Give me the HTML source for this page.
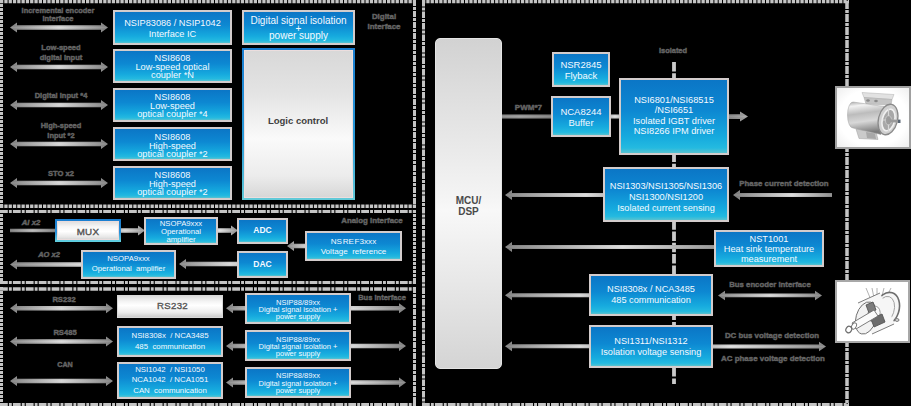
<!DOCTYPE html>
<html><head><meta charset="utf-8"><style>
html,body{margin:0;padding:0;background:#000;width:911px;height:406px;overflow:hidden}
body{position:relative;font-family:"Liberation Sans", sans-serif}
svg.main{position:absolute;left:0;top:0}
.bb,.gb,.lc,.mux,.mcu,.img,.lb{position:absolute;box-sizing:content-box}
.bb{border:2px solid #d3cccc;background:linear-gradient(to bottom,#0b76c6 0%,#0d88d2 42%,#16aade 78%,#24bae0 93%,#58c2d0 100%);color:#f4faff;display:flex;align-items:center;justify-content:center;text-align:center}
.tx{white-space:nowrap;text-align:center}
.lb{color:#646464;font-weight:bold;-webkit-text-stroke:0.45px #646464;white-space:nowrap;transform-origin:center top}
.lc{border:2px solid #1a84d6;border-image:linear-gradient(to bottom,#1a7ed0,#2a9ad8 60%,#62cad8) 1;background:linear-gradient(to bottom,#d8d8d8 0%,#e4e4e4 30%,#fafafa 60%,#ececec 85%,#d6d6d6 100%);display:flex;align-items:center;justify-content:center;box-shadow:inset 0 0 0 1px #ecdede}
.mux{border:2px solid #1a84d6;border-image:linear-gradient(to bottom,#1a7ed0,#2a90d8 60%,#62d0e0) 1;background:linear-gradient(to bottom,#dcdcdc 0%,#f6f6f6 30%,#ffffff 55%,#e6e6e6 85%,#d0d0d0 100%);display:flex;align-items:center;justify-content:center;box-shadow:inset 0 0 0 1px #eadcdc}
.gb{background:linear-gradient(to bottom,#d6d6d6 0%,#f4f4f4 28%,#ffffff 45%,#ececec 75%,#c6c6c6 100%);display:flex;align-items:center;justify-content:center;box-shadow:inset 0 0 0 1px #d8d8d8}
.mcu{border:1px solid #e4e4e4;border-radius:5px;background:linear-gradient(to bottom,#d2d2d2 0%,#f4f4f4 48%,#f8f8f8 52%,#d4d4d4 100%);display:flex;align-items:center;justify-content:center}
.img{background:#fff;border:0;box-shadow:inset 0 0 0 2px #9c9c9c}
</style></head><body>
<svg class="main" width="911" height="406" viewBox="0 0 911 406"><defs>
<linearGradient id="hg" x1="0" y1="0" x2="1" y2="0"><stop offset="0" stop-color="#858585"/><stop offset="0.5" stop-color="#d6d6d6"/><stop offset="1" stop-color="#858585"/></linearGradient>
<linearGradient id="hv" x1="0" y1="0" x2="0" y2="1"><stop offset="0" stop-color="#000" stop-opacity="0"/><stop offset="0.35" stop-color="#000" stop-opacity="0.06"/><stop offset="0.5" stop-color="#fff" stop-opacity="0.06"/><stop offset="0.65" stop-color="#000" stop-opacity="0.06"/><stop offset="1" stop-color="#000" stop-opacity="0"/></linearGradient>
<linearGradient id="ga" x1="0" y1="0" x2="0" y2="1"><stop offset="0" stop-color="#8c8c8c"/><stop offset="0.5" stop-color="#d0d0d0"/><stop offset="1" stop-color="#8c8c8c"/></linearGradient>
<linearGradient id="gl" x1="0" y1="0" x2="0" y2="1"><stop offset="0" stop-color="#a8a8a8"/><stop offset="0.5" stop-color="#e0e0e0"/><stop offset="1" stop-color="#a8a8a8"/></linearGradient>
<linearGradient id="gd" x1="0" y1="0" x2="0" y2="1"><stop offset="0" stop-color="#6a6a6a"/><stop offset="0.5" stop-color="#9a9a9a"/><stop offset="1" stop-color="#6a6a6a"/></linearGradient>
<linearGradient id="g1" gradientUnits="userSpaceOnUse" x1="10" y1="0" x2="108" y2="0"><stop offset="0" stop-color="#858585"/><stop offset="0.5" stop-color="#dadada"/><stop offset="1" stop-color="#858585"/></linearGradient><linearGradient id="g2" gradientUnits="userSpaceOnUse" x1="10" y1="0" x2="108" y2="0"><stop offset="0" stop-color="#858585"/><stop offset="0.5" stop-color="#dadada"/><stop offset="1" stop-color="#858585"/></linearGradient><linearGradient id="g3" gradientUnits="userSpaceOnUse" x1="10" y1="0" x2="108" y2="0"><stop offset="0" stop-color="#858585"/><stop offset="0.5" stop-color="#dadada"/><stop offset="1" stop-color="#858585"/></linearGradient><linearGradient id="g4" gradientUnits="userSpaceOnUse" x1="10" y1="0" x2="108" y2="0"><stop offset="0" stop-color="#858585"/><stop offset="0.5" stop-color="#dadada"/><stop offset="1" stop-color="#858585"/></linearGradient><linearGradient id="g5" gradientUnits="userSpaceOnUse" x1="10" y1="0" x2="108" y2="0"><stop offset="0" stop-color="#858585"/><stop offset="0.5" stop-color="#dadada"/><stop offset="1" stop-color="#858585"/></linearGradient><linearGradient id="g6" gradientUnits="userSpaceOnUse" x1="10" y1="0" x2="55" y2="0"><stop offset="0" stop-color="#808080"/><stop offset="0.5" stop-color="#b8b8b8"/><stop offset="1" stop-color="#808080"/></linearGradient><linearGradient id="g7" gradientUnits="userSpaceOnUse" x1="100" y1="0" x2="150" y2="0"><stop offset="0" stop-color="#8a8a8a"/><stop offset="0.5" stop-color="#d8d8d8"/><stop offset="1" stop-color="#8a8a8a"/></linearGradient><linearGradient id="g8" gradientUnits="userSpaceOnUse" x1="200" y1="0" x2="240" y2="0"><stop offset="0" stop-color="#8a8a8a"/><stop offset="0.5" stop-color="#e0e0e0"/><stop offset="1" stop-color="#8a8a8a"/></linearGradient><linearGradient id="g9" gradientUnits="userSpaceOnUse" x1="285" y1="0" x2="330" y2="0"><stop offset="0" stop-color="#858585"/><stop offset="0.5" stop-color="#d8d8d8"/><stop offset="1" stop-color="#858585"/></linearGradient><linearGradient id="g10" gradientUnits="userSpaceOnUse" x1="10" y1="0" x2="150" y2="0"><stop offset="0" stop-color="#858585"/><stop offset="0.5" stop-color="#dadada"/><stop offset="1" stop-color="#858585"/></linearGradient><linearGradient id="g11" gradientUnits="userSpaceOnUse" x1="179" y1="0" x2="280" y2="0"><stop offset="0" stop-color="#8a8a8a"/><stop offset="0.5" stop-color="#dcdcdc"/><stop offset="1" stop-color="#8a8a8a"/></linearGradient><linearGradient id="g12" gradientUnits="userSpaceOnUse" x1="10" y1="0" x2="113" y2="0"><stop offset="0" stop-color="#858585"/><stop offset="0.5" stop-color="#dadada"/><stop offset="1" stop-color="#858585"/></linearGradient><linearGradient id="g13" gradientUnits="userSpaceOnUse" x1="10" y1="0" x2="113" y2="0"><stop offset="0" stop-color="#858585"/><stop offset="0.5" stop-color="#dadada"/><stop offset="1" stop-color="#858585"/></linearGradient><linearGradient id="g14" gradientUnits="userSpaceOnUse" x1="10" y1="0" x2="113" y2="0"><stop offset="0" stop-color="#858585"/><stop offset="0.5" stop-color="#dadada"/><stop offset="1" stop-color="#858585"/></linearGradient><linearGradient id="g15" gradientUnits="userSpaceOnUse" x1="226" y1="0" x2="300" y2="0"><stop offset="0" stop-color="#858585"/><stop offset="0.5" stop-color="#dadada"/><stop offset="1" stop-color="#858585"/></linearGradient><linearGradient id="g16" gradientUnits="userSpaceOnUse" x1="300" y1="0" x2="406" y2="0"><stop offset="0" stop-color="#858585"/><stop offset="0.5" stop-color="#dadada"/><stop offset="1" stop-color="#858585"/></linearGradient><linearGradient id="g17" gradientUnits="userSpaceOnUse" x1="226" y1="0" x2="300" y2="0"><stop offset="0" stop-color="#858585"/><stop offset="0.5" stop-color="#dadada"/><stop offset="1" stop-color="#858585"/></linearGradient><linearGradient id="g18" gradientUnits="userSpaceOnUse" x1="300" y1="0" x2="406" y2="0"><stop offset="0" stop-color="#858585"/><stop offset="0.5" stop-color="#dadada"/><stop offset="1" stop-color="#858585"/></linearGradient><linearGradient id="g19" gradientUnits="userSpaceOnUse" x1="226" y1="0" x2="300" y2="0"><stop offset="0" stop-color="#858585"/><stop offset="0.5" stop-color="#dadada"/><stop offset="1" stop-color="#858585"/></linearGradient><linearGradient id="g20" gradientUnits="userSpaceOnUse" x1="300" y1="0" x2="406" y2="0"><stop offset="0" stop-color="#858585"/><stop offset="0.5" stop-color="#dadada"/><stop offset="1" stop-color="#858585"/></linearGradient><linearGradient id="g21" gradientUnits="userSpaceOnUse" x1="480" y1="0" x2="560" y2="0"><stop offset="0" stop-color="#7c7c7c"/><stop offset="0.5" stop-color="#9c9c9c"/><stop offset="1" stop-color="#7c7c7c"/></linearGradient><linearGradient id="g22" gradientUnits="userSpaceOnUse" x1="611" y1="0" x2="619" y2="0"><stop offset="0" stop-color="#c8c8c8"/><stop offset="0.5" stop-color="#e0e0e0"/><stop offset="1" stop-color="#c8c8c8"/></linearGradient><linearGradient id="g23" gradientUnits="userSpaceOnUse" x1="729" y1="0" x2="760" y2="0"><stop offset="0" stop-color="#8a8a8a"/><stop offset="0.5" stop-color="#a4a4a4"/><stop offset="1" stop-color="#8a8a8a"/></linearGradient><linearGradient id="g24" gradientUnits="userSpaceOnUse" x1="505" y1="0" x2="640" y2="0"><stop offset="0" stop-color="#858585"/><stop offset="0.6" stop-color="#e0e0e0"/><stop offset="1" stop-color="#858585"/></linearGradient><linearGradient id="g25" gradientUnits="userSpaceOnUse" x1="733" y1="0" x2="840" y2="0"><stop offset="0" stop-color="#808080"/><stop offset="0.55" stop-color="#e0e0e0"/><stop offset="1" stop-color="#808080"/></linearGradient><linearGradient id="g26" gradientUnits="userSpaceOnUse" x1="505" y1="0" x2="740" y2="0"><stop offset="0" stop-color="#858585"/><stop offset="0.5" stop-color="#e0e0e0"/><stop offset="1" stop-color="#858585"/></linearGradient><linearGradient id="g27" gradientUnits="userSpaceOnUse" x1="505" y1="0" x2="620" y2="0"><stop offset="0" stop-color="#858585"/><stop offset="0.65" stop-color="#dcdcdc"/><stop offset="1" stop-color="#858585"/></linearGradient><linearGradient id="g28" gradientUnits="userSpaceOnUse" x1="718" y1="0" x2="822" y2="0"><stop offset="0" stop-color="#858585"/><stop offset="0.5" stop-color="#dadada"/><stop offset="1" stop-color="#858585"/></linearGradient><linearGradient id="g29" gradientUnits="userSpaceOnUse" x1="505" y1="0" x2="620" y2="0"><stop offset="0" stop-color="#858585"/><stop offset="0.65" stop-color="#dcdcdc"/><stop offset="1" stop-color="#858585"/></linearGradient><linearGradient id="g30" gradientUnits="userSpaceOnUse" x1="680" y1="0" x2="826" y2="0"><stop offset="0" stop-color="#8a8a8a"/><stop offset="0.35" stop-color="#e0e0e0"/><stop offset="1" stop-color="#8a8a8a"/></linearGradient></defs><line x1="0" y1="1.6" x2="416" y2="1.6" stroke="#c4c4c4" stroke-width="3.3" stroke-dasharray="3.3 1" stroke-dashoffset="0"/><line x1="1.5" y1="0" x2="1.5" y2="208" stroke="#c4c4c4" stroke-width="3" stroke-dasharray="3 1" stroke-dashoffset="0"/><line x1="414.5" y1="0" x2="414.5" y2="208" stroke="#c4c4c4" stroke-width="3" stroke-dasharray="6 1 3 1" stroke-dashoffset="0"/><line x1="0" y1="206.2" x2="416" y2="206.2" stroke="#c4c4c4" stroke-width="3.6" stroke-dasharray="3.3 1" stroke-dashoffset="0"/><line x1="0" y1="211.5" x2="416" y2="211.5" stroke="#c4c4c4" stroke-width="3" stroke-dasharray="7.8 1.1 2.9 1.1" stroke-dashoffset="0"/><line x1="1.5" y1="210" x2="1.5" y2="284" stroke="#c4c4c4" stroke-width="3" stroke-dasharray="3 1" stroke-dashoffset="0"/><line x1="414.5" y1="210" x2="414.5" y2="284" stroke="#c4c4c4" stroke-width="3" stroke-dasharray="3 1" stroke-dashoffset="0"/><line x1="0" y1="282.5" x2="416" y2="282.5" stroke="#c4c4c4" stroke-width="3" stroke-dasharray="7.8 1.1 2.9 1.1" stroke-dashoffset="0"/><line x1="0" y1="289" x2="416" y2="289" stroke="#c4c4c4" stroke-width="3.5" stroke-dasharray="7.8 1.1 2.9 1.1" stroke-dashoffset="0"/><line x1="1.5" y1="287" x2="1.5" y2="406" stroke="#c4c4c4" stroke-width="3" stroke-dasharray="3 1" stroke-dashoffset="0"/><line x1="414.5" y1="287" x2="414.5" y2="406" stroke="#c4c4c4" stroke-width="3" stroke-dasharray="6 1 3 1" stroke-dashoffset="0"/><line x1="0" y1="404.5" x2="416" y2="404.5" stroke="#c4c4c4" stroke-width="3" stroke-dasharray="7.8 1.1 2.9 1.1" stroke-dashoffset="0"/><line x1="422" y1="1.6" x2="849" y2="1.6" stroke="#c4c4c4" stroke-width="3.3" stroke-dasharray="3.3 1" stroke-dashoffset="0"/><line x1="423.5" y1="0" x2="423.5" y2="406" stroke="#c4c4c4" stroke-width="3" stroke-dasharray="6.5 1 3 1" stroke-dashoffset="0"/><line x1="847" y1="0" x2="847" y2="406" stroke="#c4c4c4" stroke-width="3.5" stroke-dasharray="8 1 3 1" stroke-dashoffset="-1"/><line x1="422" y1="404.5" x2="849" y2="404.5" stroke="#c4c4c4" stroke-width="3" stroke-dasharray="7.8 1.1 2.9 1.1" stroke-dashoffset="0"/><path d="M10,27.5 L17,22.5 L17,25.25 L101,25.25 L101,22.5 L108,27.5 L101,32.5 L101,29.75 L17,29.75 L17,32.5 Z" fill="url(#g1)"/><path d="M10,27.5 L17,22.5 L17,25.25 L101,25.25 L101,22.5 L108,27.5 L101,32.5 L101,29.75 L17,29.75 L17,32.5 Z" fill="url(#hv)"/><path d="M10,67 L17,62.0 L17,64.75 L101,64.75 L101,62.0 L108,67 L101,72.0 L101,69.25 L17,69.25 L17,72.0 Z" fill="url(#g2)"/><path d="M10,67 L17,62.0 L17,64.75 L101,64.75 L101,62.0 L108,67 L101,72.0 L101,69.25 L17,69.25 L17,72.0 Z" fill="url(#hv)"/><path d="M10,105 L17,100.0 L17,102.75 L101,102.75 L101,100.0 L108,105 L101,110.0 L101,107.25 L17,107.25 L17,110.0 Z" fill="url(#g3)"/><path d="M10,105 L17,100.0 L17,102.75 L101,102.75 L101,100.0 L108,105 L101,110.0 L101,107.25 L17,107.25 L17,110.0 Z" fill="url(#hv)"/><path d="M10,144 L17,139.0 L17,141.75 L101,141.75 L101,139.0 L108,144 L101,149.0 L101,146.25 L17,146.25 L17,149.0 Z" fill="url(#g4)"/><path d="M10,144 L17,139.0 L17,141.75 L101,141.75 L101,139.0 L108,144 L101,149.0 L101,146.25 L17,146.25 L17,149.0 Z" fill="url(#hv)"/><path d="M10,182.9 L17,177.9 L17,180.65 L101,180.65 L101,177.9 L108,182.9 L101,187.9 L101,185.15 L17,185.15 L17,187.9 Z" fill="url(#g5)"/><path d="M10,182.9 L17,177.9 L17,180.65 L101,180.65 L101,177.9 L108,182.9 L101,187.9 L101,185.15 L17,185.15 L17,187.9 Z" fill="url(#hv)"/><path d="M10,228.75 L55,228.75 L55,232.25 L10,232.25 Z" fill="url(#g6)"/><path d="M10,228.75 L55,228.75 L55,232.25 L10,232.25 Z" fill="url(#hv)"/><path d="M121,228.25 L138,228.25 L138,225.5 L145,230.5 L138,235.5 L138,232.75 L121,232.75 Z" fill="url(#g7)"/><path d="M121,228.25 L138,228.25 L138,225.5 L145,230.5 L138,235.5 L138,232.75 L121,232.75 Z" fill="url(#hv)"/><path d="M218,228.25 L231,228.25 L231,225.5 L238,230.5 L231,235.5 L231,232.75 L218,232.75 Z" fill="url(#g8)"/><path d="M218,228.25 L231,228.25 L231,225.5 L238,230.5 L231,235.5 L231,232.75 L218,232.75 Z" fill="url(#hv)"/><path d="M287,246 L294,241.0 L294,243.75 L305,243.75 L305,248.25 L294,248.25 L294,251.0 Z" fill="url(#g9)"/><path d="M287,246 L294,241.0 L294,243.75 L305,243.75 L305,248.25 L294,248.25 L294,251.0 Z" fill="url(#hv)"/><path d="M10,264.5 L17,259.5 L17,262.25 L81,262.25 L81,266.75 L17,266.75 L17,269.5 Z" fill="url(#g10)"/><path d="M10,264.5 L17,259.5 L17,262.25 L81,262.25 L81,266.75 L17,266.75 L17,269.5 Z" fill="url(#hv)"/><path d="M179,264 L186,259.0 L186,261.75 L237,261.75 L237,266.25 L186,266.25 L186,269.0 Z" fill="url(#g11)"/><path d="M179,264 L186,259.0 L186,261.75 L237,261.75 L237,266.25 L186,266.25 L186,269.0 Z" fill="url(#hv)"/><path d="M10,308.3 L17,303.3 L17,306.05 L106,306.05 L106,303.3 L113,308.3 L106,313.3 L106,310.55 L17,310.55 L17,313.3 Z" fill="url(#g12)"/><path d="M10,308.3 L17,303.3 L17,306.05 L106,306.05 L106,303.3 L113,308.3 L106,313.3 L106,310.55 L17,310.55 L17,313.3 Z" fill="url(#hv)"/><path d="M10,341.5 L17,336.5 L17,339.25 L106,339.25 L106,336.5 L113,341.5 L106,346.5 L106,343.75 L17,343.75 L17,346.5 Z" fill="url(#g13)"/><path d="M10,341.5 L17,336.5 L17,339.25 L106,339.25 L106,336.5 L113,341.5 L106,346.5 L106,343.75 L17,343.75 L17,346.5 Z" fill="url(#hv)"/><path d="M10,381 L17,376.0 L17,378.75 L106,378.75 L106,376.0 L113,381 L106,386.0 L106,383.25 L17,383.25 L17,386.0 Z" fill="url(#g14)"/><path d="M10,381 L17,376.0 L17,378.75 L106,378.75 L106,376.0 L113,381 L106,386.0 L106,383.25 L17,383.25 L17,386.0 Z" fill="url(#hv)"/><path d="M226,308.3 L233,303.3 L233,306.05 L245,306.05 L245,310.55 L233,310.55 L233,313.3 Z" fill="url(#g15)"/><path d="M226,308.3 L233,303.3 L233,306.05 L245,306.05 L245,310.55 L233,310.55 L233,313.3 Z" fill="url(#hv)"/><path d="M351,306.05 L399,306.05 L399,303.3 L406,308.3 L399,313.3 L399,310.55 L351,310.55 Z" fill="url(#g16)"/><path d="M351,306.05 L399,306.05 L399,303.3 L406,308.3 L399,313.3 L399,310.55 L351,310.55 Z" fill="url(#hv)"/><path d="M226,346 L233,341.0 L233,343.75 L245,343.75 L245,348.25 L233,348.25 L233,351.0 Z" fill="url(#g17)"/><path d="M226,346 L233,341.0 L233,343.75 L245,343.75 L245,348.25 L233,348.25 L233,351.0 Z" fill="url(#hv)"/><path d="M351,343.75 L399,343.75 L399,341.0 L406,346 L399,351.0 L399,348.25 L351,348.25 Z" fill="url(#g18)"/><path d="M351,343.75 L399,343.75 L399,341.0 L406,346 L399,351.0 L399,348.25 L351,348.25 Z" fill="url(#hv)"/><path d="M226,382.5 L233,377.5 L233,380.25 L245,380.25 L245,384.75 L233,384.75 L233,387.5 Z" fill="url(#g19)"/><path d="M226,382.5 L233,377.5 L233,380.25 L245,380.25 L245,384.75 L233,384.75 L233,387.5 Z" fill="url(#hv)"/><path d="M351,380.25 L399,380.25 L399,377.5 L406,382.5 L399,387.5 L399,384.75 L351,384.75 Z" fill="url(#g20)"/><path d="M351,380.25 L399,380.25 L399,377.5 L406,382.5 L399,387.5 L399,384.75 L351,384.75 Z" fill="url(#hv)"/><path d="M502,114.5 L552,114.5 L552,118.5 L502,118.5 Z" fill="url(#g21)"/><path d="M502,114.5 L552,114.5 L552,118.5 L502,118.5 Z" fill="url(#hv)"/><path d="M611,114.5 L619,114.5 L619,118.5 L611,118.5 Z" fill="url(#g22)"/><path d="M611,114.5 L619,114.5 L619,118.5 L611,118.5 Z" fill="url(#hv)"/><line x1="674" y1="62" x2="674" y2="384" stroke="#cacaca" stroke-width="3.8" stroke-dasharray="9.5 1.8"/><path d="M729,114.19999999999999 L740,114.19999999999999 L740,111.6 L748,116.6 L740,121.6 L740,119.0 L729,119.0 Z" fill="url(#g23)"/><path d="M729,114.19999999999999 L740,114.19999999999999 L740,111.6 L748,116.6 L740,121.6 L740,119.0 L729,119.0 Z" fill="url(#hv)"/><path d="M505,195 L512,190.0 L512,193.0 L603,193.0 L603,197.0 L512,197.0 L512,200.0 Z" fill="url(#g24)"/><path d="M505,195 L512,190.0 L512,193.0 L603,193.0 L603,197.0 L512,197.0 L512,200.0 Z" fill="url(#hv)"/><path d="M733,195 L740,190.0 L740,193.0 L832,193.0 L832,197.0 L740,197.0 L740,200.0 Z" fill="url(#g25)"/><path d="M733,195 L740,190.0 L740,193.0 L832,193.0 L832,197.0 L740,197.0 L740,200.0 Z" fill="url(#hv)"/><path d="M505,247 L512,242.0 L512,245.0 L714,245.0 L714,249.0 L512,249.0 L512,252.0 Z" fill="url(#g26)"/><path d="M505,247 L512,242.0 L512,245.0 L714,245.0 L714,249.0 L512,249.0 L512,252.0 Z" fill="url(#hv)"/><path d="M505,295.2 L512,290.2 L512,293.2 L589,293.2 L589,297.2 L512,297.2 L512,300.2 Z" fill="url(#g27)"/><path d="M505,295.2 L512,290.2 L512,293.2 L589,293.2 L589,297.2 L512,297.2 L512,300.2 Z" fill="url(#hv)"/><path d="M718,295.4 L725,290.65 L725,293.5 L815,293.5 L815,290.65 L822,295.4 L815,300.15 L815,297.29999999999995 L725,297.29999999999995 L725,300.15 Z" fill="url(#g28)"/><path d="M718,295.4 L725,290.65 L725,293.5 L815,293.5 L815,290.65 L822,295.4 L815,300.15 L815,297.29999999999995 L725,297.29999999999995 L725,300.15 Z" fill="url(#hv)"/><path d="M505,346.3 L512,341.3 L512,344.3 L589,344.3 L589,348.3 L512,348.3 L512,351.3 Z" fill="url(#g29)"/><path d="M505,346.3 L512,341.3 L512,344.3 L589,344.3 L589,348.3 L512,348.3 L512,351.3 Z" fill="url(#hv)"/><path d="M713,344.6 L819,344.6 L819,341.85 L826,346.6 L819,351.35 L819,348.6 L713,348.6 Z" fill="url(#g30)"/><path d="M713,344.6 L819,344.6 L819,341.85 L826,346.6 L819,351.35 L819,348.6 L713,348.6 Z" fill="url(#hv)"/></svg>
<div class="lb" style="left:-11.600000000000001px;top:6.58px;width:140px;font-size:8px;line-height:8.9px;text-align:center;transform:scaleX(0.93);">Incremental encoder<br>interface</div><div class="lb" style="left:-9.0px;top:43.38px;width:140px;font-size:8px;line-height:9.7px;text-align:center;transform:scaleX(0.94);">Low-speed<br>digital input</div><div class="lb" style="left:-9.5px;top:91.18px;width:140px;font-size:8px;line-height:9.5px;text-align:center;transform:scaleX(0.94);">Digital input *4</div><div class="lb" style="left:-9.399999999999999px;top:121.43px;width:140px;font-size:8px;line-height:9.6px;text-align:center;transform:scaleX(0.93);">High-speed<br>input *2</div><div class="lb" style="left:-9.100000000000001px;top:169.18px;width:140px;font-size:8px;line-height:9.5px;text-align:center;transform:scaleX(0.95);">STO x2</div><div class="lb" style="left:313.5px;top:12.03px;width:140px;font-size:8px;line-height:10px;text-align:center;transform:scaleX(0.99);">Digital<br>interface</div><div class="bb" style="left:113px;top:10px;width:115px;height:31px;"><div class="tx" style="font-size:9.2px;line-height:10.5px;transform:translateY(0.5px)">NSIP83086 / NSIP1042<br>Interface IC</div></div><div class="bb" style="left:113px;top:49px;width:115px;height:30px;"><div class="tx" style="font-size:9.2px;line-height:8.8px;transform:translateY(1px)">NSI8608<br>Low-speed optical<br>coupler *N</div></div><div class="bb" style="left:113px;top:88px;width:115px;height:30px;"><div class="tx" style="font-size:9.2px;line-height:8.7px;transform:translateY(0.8px)">NSI8608<br>Low-speed<br>optical coupler *4</div></div><div class="bb" style="left:113px;top:127px;width:115px;height:30px;"><div class="tx" style="font-size:9.2px;line-height:8.5px;transform:translateY(1.5px)">NSI8608<br>High-speed<br>optical coupler *2</div></div><div class="bb" style="left:113px;top:166px;width:115px;height:30px;"><div class="tx" style="font-size:9.2px;line-height:8.5px;transform:translateY(1.2px)">NSI8608<br>High-speed<br>optical coupler *2</div></div><div class="bb" style="left:242px;top:10px;width:109px;height:31px;"><div class="tx" style="font-size:10.0px;line-height:7.8px;transform:translateY(0.5px)">Digital signal isolation<br>+<br>power supply</div></div><div class="lc" style="left:242px;top:48px;width:109px;height:148px"><div class="tx" style="font-size:9.8px;font-weight:bold;color:#404040;transform:translateY(-4.3px) scaleX(0.97)">Logic control</div></div><div class="lb" style="left:-38.6px;top:218.28px;width:140px;font-size:8px;line-height:9.5px;text-align:center;transform:scaleX(0.97);"><i>AI x2</i></div><div class="mux" style="left:55px;top:219px;width:62px;height:19px"><div class="tx" style="font-size:9.8px;font-weight:normal;color:#555;-webkit-text-stroke:0.4px #555;letter-spacing:0.3px;transform:translateY(0.5px)">MUX</div></div><div class="bb" style="left:144px;top:217px;width:70px;height:24px;"><div class="tx" style="font-size:7.74px;line-height:8.2px;transform:translateY(0.5px)">NSOPA9xxx<br>Operational<br>amplifier</div></div><div class="bb" style="left:237px;top:218px;width:47px;height:22px;"><div class="tx" style="font-size:8.5px;line-height:9.5px;transform:translateY(0px)"><b>ADC</b></div></div><div class="bb" style="left:237px;top:251px;width:47px;height:23px;"><div class="tx" style="font-size:8.5px;line-height:9.5px;transform:translateY(0px)"><b>DAC</b></div></div><div class="bb" style="left:305px;top:231px;width:93px;height:26px;"><div class="tx" style="font-size:8.1px;line-height:10px;transform:translateY(0.5px)">NS&#8202;RE&#8202;F3xxx<br>Voltage&nbsp;&nbsp;reference</div></div><div class="lb" style="left:-20.799999999999997px;top:250.18px;width:140px;font-size:8px;line-height:9.5px;text-align:center;transform:scaleX(0.94);"><i>AO x2</i></div><div class="bb" style="left:81px;top:250px;width:91px;height:25px;"><div class="tx" style="font-size:7.74px;line-height:10px;transform:translateY(-0.7px)">NSOPA9xxx<br>Operational&nbsp; amplifier</div></div><div class="lb" style="left:302.0px;top:215.98px;width:140px;font-size:8px;line-height:9.5px;text-align:center;transform:scaleX(0.98);">Analog interface</div><div class="lb" style="left:-5.599999999999994px;top:295.08px;width:140px;font-size:8px;line-height:9.5px;text-align:center;transform:scaleX(0.95);">RS232</div><div class="lb" style="left:-5.400000000000006px;top:328.28px;width:140px;font-size:8px;line-height:9.5px;text-align:center;transform:scaleX(0.95);">RS485</div><div class="lb" style="left:-5.5px;top:359.98px;width:140px;font-size:8px;line-height:9.5px;text-align:center;transform:scaleX(0.9);">CAN</div><div class="gb" style="left:117px;top:295px;width:106px;height:23px"><div class="tx" style="font-size:9.6px;font-weight:normal;color:#585858;-webkit-text-stroke:0.4px #585858;letter-spacing:0.3px;transform:translate(2.5px,-1.4px)">RS232</div></div><div class="bb" style="left:117px;top:326px;width:102px;height:27px;"><div class="tx" style="font-size:7.83px;line-height:10.3px;transform:translateY(0.3px)">NSI8308x&nbsp; / NCA3485<br>485&nbsp; communication</div></div><div class="bb" style="left:117px;top:362px;width:102px;height:33px;"><div class="tx" style="font-size:7.83px;line-height:10.1px;transform:translateY(0.3px)">NSI1042&nbsp; / NSI1050<br>NCA1042&nbsp; / NCA1051<br>CAN&nbsp; communication</div></div><div class="bb" style="left:245px;top:293px;width:102px;height:27px;"><div class="tx" style="font-size:7.54px;line-height:7.2px;transform:translateY(1.2px)">NSIP88/89xx<br>Digital signal isolation +<br>power supply</div></div><div class="bb" style="left:245px;top:330px;width:102px;height:27px;"><div class="tx" style="font-size:7.54px;line-height:7.2px;transform:translateY(1.2px)">NSIP88/89xx<br>Digital signal isolation +<br>power supply</div></div><div class="bb" style="left:245px;top:366.5px;width:102px;height:27.5px;"><div class="tx" style="font-size:7.54px;line-height:7.2px;transform:translateY(1.2px)">NSIP88/89xx<br>Digital signal isolation +<br>power supply</div></div><div class="lb" style="left:312.0px;top:293.28px;width:140px;font-size:8px;line-height:9.5px;text-align:center;transform:scaleX(0.94);">Bus interface</div><div class="mcu" style="left:435px;top:38px;width:65px;height:329px"><div class="tx" style="font-size:10px;font-weight:bold;color:#4a4a4a;line-height:11px;transform:translateY(1.5px)">MCU/<br>DSP</div></div><div class="bb" style="left:552px;top:52px;width:54px;height:31px;"><div class="tx" style="font-size:9.5px;line-height:11px;transform:translateY(0px)">NSR2845<br>Flyback</div></div><div class="lb" style="left:458.4px;top:103.28px;width:140px;font-size:8px;line-height:9.5px;text-align:center;transform:scaleX(1.0);">PWM*7</div><div class="bb" style="left:551px;top:96px;width:56px;height:37px;"><div class="tx" style="font-size:9.5px;line-height:11px;transform:translateY(0px)">NCA8244<br>Buffer</div></div><div class="lb" style="left:603.4px;top:45.98px;width:140px;font-size:8px;line-height:9.5px;text-align:center;transform:scaleX(0.93);">Isolated</div><div class="bb" style="left:619px;top:78px;width:106px;height:73px;"><div class="tx" style="font-size:9.24px;line-height:10.3px;transform:translateY(-0.6px)">NSI6801/NSI68515<br>/NSI6651<br>Isolated IGBT driver<br>NSI8266 IPM driver</div></div><div class="bb" style="left:603px;top:167px;width:122px;height:51px;"><div class="tx" style="font-size:9.2px;line-height:10.9px;transform:translateY(2.5px)">NSI1303/NSI1305/NSI1306<br>NSI1300/NSI1200<br>Isolated current sensing</div></div><div class="lb" style="left:713.5px;top:179.08px;width:140px;font-size:8px;line-height:9.5px;text-align:center;transform:scaleX(0.98);">Phase current detection</div><div class="bb" style="left:714px;top:230px;width:106px;height:33px;"><div class="tx" style="font-size:9.2px;line-height:10px;transform:translateY(0px)">NST1001<br>Heat sink temperature<br>measurement</div></div><div class="bb" style="left:589px;top:274px;width:120px;height:38px;"><div class="tx" style="font-size:9.2px;line-height:11px;transform:translateY(0px)">NSI8308x / NCA3485<br>485 communication</div></div><div class="lb" style="left:699.8px;top:280.48px;width:140px;font-size:8px;line-height:9.5px;text-align:center;transform:scaleX(0.97);">Bus encoder interface</div><div class="bb" style="left:589px;top:325px;width:120px;height:39px;"><div class="tx" style="font-size:9.2px;line-height:11px;transform:translateY(0px)">NSI1311/NSI1312<br>Isolation voltage sensing</div></div><div class="lb" style="left:702.3px;top:331.48px;width:140px;font-size:8px;line-height:9.5px;text-align:center;transform:scaleX(0.98);">DC bus voltage detection</div><div class="lb" style="left:702.6px;top:354.08px;width:140px;font-size:8px;line-height:9.5px;text-align:center;transform:scaleX(0.99);">AC phase voltage detection</div><div class="img" style="left:835px;top:86px;width:76px;height:63px"><svg width="76" height="63" viewBox="835 86 76 63" style="position:absolute;left:0;top:0">
<defs>
<linearGradient id="mb" x1="0" y1="0" x2="0.15" y2="1"><stop offset="0" stop-color="#a8a8a8"/><stop offset="0.15" stop-color="#f2f2f2"/><stop offset="0.4" stop-color="#bcbcbc"/><stop offset="0.65" stop-color="#d8d8d8"/><stop offset="0.85" stop-color="#a4a4a4"/><stop offset="1" stop-color="#7c7c7c"/></linearGradient>
<radialGradient id="vg" cx="0.5" cy="0.5" r="0.75"><stop offset="0.6" stop-color="#fff"/><stop offset="1" stop-color="#e8e8e8"/></radialGradient>
</defs>
<rect x="835" y="86" width="76" height="63" fill="url(#vg)"/>
<path d="M856,129 L876,132 L878,139.5 L859,138.5 Z" fill="#cacaca" stroke="#a0a0a0" stroke-width="0.5"/>
<path d="M866,132 L875,133.5 L876,139 L867,138 Z" fill="#a8a8a8"/>
<path d="M862,92.5 L894,94.5 L892,99.5 L864,97.5 Z" fill="#e2e2e2" stroke="#b0b0b0" stroke-width="0.5"/>
<path d="M864,97.5 L892,99.5 L891,105 L866,104 Z" fill="#c4c4c4" stroke="#a8a8a8" stroke-width="0.5"/>
<ellipse cx="868" cy="100.5" rx="1.8" ry="1.3" fill="#8a8a8a"/><ellipse cx="876" cy="101" rx="1.8" ry="1.3" fill="#8a8a8a"/>
<path d="M853,102 L884,106.5 L881,134.5 L853,128 A5.5,13 0 0 1 853,102 Z" fill="url(#mb)" stroke="#a0a0a0" stroke-width="0.5"/>
<ellipse cx="888" cy="119.5" rx="9.5" ry="15.5" transform="rotate(14 888 119.5)" fill="#d0d0d0" stroke="#8a8a8a" stroke-width="1.3"/>
<ellipse cx="888.5" cy="120" rx="6.2" ry="11" transform="rotate(14 888.5 120)" fill="#a8a8a8" stroke="#f0f0f0" stroke-width="1.6"/><path d="M888.5,109 L888.5,131 M882.5,120 L894.5,120" stroke="#d8d8d8" stroke-width="1.2"/>
<ellipse cx="888.5" cy="120.3" rx="3" ry="4.5" fill="#9c9c9c" stroke="#dcdcdc" stroke-width="0.6"/>
<path d="M888,119 L899.5,120 L899.5,122.8 L888,122 Z" fill="#9a9a9a"/>
<rect x="898" y="119.6" width="2.5" height="3.4" fill="#5a6674"/>
</svg><div style="position:absolute;inset:0;box-shadow:inset 0 0 0 2px #a0a0a0"></div></div><div class="img" style="left:835px;top:280px;width:75px;height:63px"><svg width="75" height="63" viewBox="835 280 75 63" style="position:absolute;left:0;top:0">
<rect x="835" y="280" width="75" height="63" fill="#fff"/>
<g fill="none" stroke="#909090" stroke-width="0.7">
<line x1="866" y1="288" x2="871" y2="300"/><line x1="872" y1="288" x2="874" y2="298"/><line x1="877" y1="288" x2="877" y2="297"/><line x1="884" y1="288" x2="882" y2="296"/><line x1="891" y1="288" x2="887" y2="296"/>
<line x1="861" y1="326" x2="861" y2="334"/>
</g>
<g stroke="#6e6e6e" stroke-width="0.9">
<ellipse cx="887" cy="309" rx="12" ry="17" transform="rotate(18 887 309)" fill="#f6f6f6" stroke-width="1.6"/><ellipse cx="885" cy="310" rx="9" ry="14" transform="rotate(18 885 310)" fill="none" stroke="#a0a0a0"/>
<path d="M858,303 L880,293 L895,324 L872,334 Z" fill="#f6f6f6" stroke="none"/>
<line x1="858" y1="303" x2="880" y2="293"/><line x1="872" y1="334" x2="894" y2="324"/>
<ellipse cx="866" cy="318" rx="10" ry="16.5" transform="rotate(16 866 318)" fill="#f2f2f2"/>
<ellipse cx="874" cy="314" rx="6" ry="8" transform="rotate(16 874 314)" fill="#fafafa" stroke="#9a9a9a"/>
<path d="M866,305 L873,302 L876,310 L869,313 Z" fill="#7c7c7c" stroke="#555"/>
<path d="M871,319 L882,314 L885,322 L874,327 Z" fill="#6c6c6c" stroke="#555"/>
<path d="M852,323 L874,310 L878,316 L856,329 Z" fill="#fbfbfb"/>
<ellipse cx="854" cy="326" rx="2.2" ry="3.4" transform="rotate(30 854 326)" fill="#fff"/>
<ellipse cx="848.8" cy="329.5" rx="2.8" ry="3.3" transform="rotate(30 848.8 329.5)" fill="none" stroke-width="1.2"/>
<ellipse cx="897" cy="320" rx="2" ry="1.4" fill="#ddd"/>
</g>
</svg><div style="position:absolute;inset:0;box-shadow:inset 0 0 0 2px #a8a8a8"></div></div>
</body></html>
